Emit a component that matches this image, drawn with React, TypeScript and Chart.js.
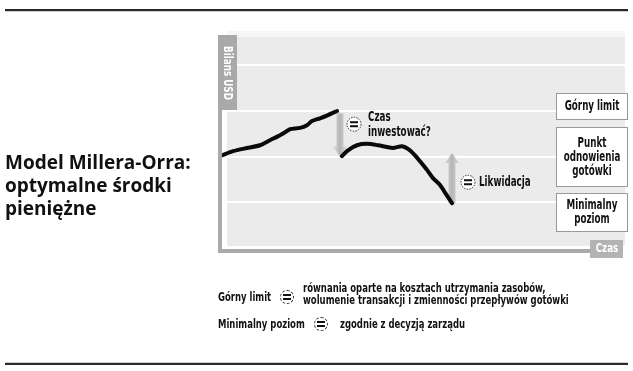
import React, { useEffect, useRef } from "react";
import { Chart, registerables } from "chart.js";

Chart.register(...registerables);

// ---- data (time units, balance units) ----
const rise_t = [0, 11, 25, 38, 48, 58, 65, 68, 78, 85, 90, 98, 106, 115];
const rise_v = [2.03, 2.12, 2.19, 2.25, 2.36, 2.47, 2.56, 2.6, 2.63, 2.69, 2.78, 2.84, 2.91, 3.0];
const fall_t = [120, 126, 135, 145, 156, 165, 171, 180, 186, 193, 198, 205, 211, 218, 224, 230];
const fall_v = [2.01, 2.14, 2.25, 2.28, 2.25, 2.21, 2.19, 2.23, 2.17, 2.03, 1.9, 1.71, 1.53, 1.38, 1.18, 0.98];
const gridLevels = [1, 2, 3, 4];
const levelBoxes = [["Górny limit"], ["Punkt", "odnowienia", "gotówki"], ["Minimalny", "poziom"]];
const investArrow = { t: 118, from: 2.95, to: 2.0 };
const liquidArrow = { t: 230, from: 0.98, to: 2.08 };
const investIcon = { t: 132, v: 2.71 };
const liquidIcon = { t: 246, v: 1.44 };
const investLabel = ["Czas", "inwestować?"];
const liquidLabel = "Likwidacja";
const yAxisTitle = "Bilans USD";
const xAxisTitle = "Czas";
const titleLines = ["Model Millera-Orra:", "optymalne środki", "pieniężne"];

const COND = '"Liberation Sans Narrow", "DejaVu Sans Condensed", "Arial Narrow", sans-serif';

function condText(ctx: CanvasRenderingContext2D, text: string, x: number, y: number, align: "left" | "center" = "left", sx = 0.72) {
  ctx.save();
  ctx.translate(x, y);
  ctx.scale(sx, 1);
  ctx.textAlign = align;
  ctx.fillText(text, 0, 0);
  ctx.restore();
}

function drawIcon(ctx: CanvasRenderingContext2D, x: number, y: number) {
  ctx.save();
  ctx.beginPath();
  ctx.arc(x, y, 7, 0, Math.PI * 2);
  ctx.fillStyle = "#ffffff";
  ctx.fill();
  ctx.setLineDash([1.5, 1.2]);
  ctx.lineWidth = 1;
  ctx.strokeStyle = "#333";
  ctx.stroke();
  ctx.setLineDash([]);
  ctx.fillStyle = "#111";
  ctx.fillRect(x - 4, y - 3, 8, 2);
  ctx.fillRect(x - 4, y + 1, 8, 2);
  ctx.restore();
}

function drawArrow(ctx: CanvasRenderingContext2D, x: number, y1: number, y2: number) {
  const dir = y2 > y1 ? 1 : -1;
  const head = 10;
  const g = ctx.createLinearGradient(x - 7, 0, x + 7, 0);
  g.addColorStop(0, "#dcdcdc");
  g.addColorStop(0.5, "#b4b4b4");
  g.addColorStop(1, "#dcdcdc");
  ctx.save();
  ctx.fillStyle = g;
  ctx.beginPath();
  ctx.moveTo(x - 3.5, y1);
  ctx.lineTo(x + 3.5, y1);
  ctx.lineTo(x + 3.5, y2 - dir * head);
  ctx.lineTo(x + 7, y2 - dir * head);
  ctx.lineTo(x, y2);
  ctx.lineTo(x - 7, y2 - dir * head);
  ctx.lineTo(x - 3.5, y2 - dir * head);
  ctx.closePath();
  ctx.fill();
  ctx.restore();
}

const decorPlugin = {
  id: "decor",
  beforeDatasetsDraw(chart: any) {
    const { ctx, chartArea } = chart;
    const xs = chart.scales.x;
    const ys = chart.scales.y;
    const { left, right, top, bottom } = chartArea;
    ctx.save();
    ctx.fillStyle = "#f6f6f6";
    ctx.fillRect(left + 5, top - 6, right - left - 5, 6);
    ctx.fillStyle = "#ebebeb";
    ctx.fillRect(left + 5, top, right - left - 5, bottom - 2 - top);
    ctx.strokeStyle = "#ffffff";
    ctx.lineWidth = 2;
    gridLevels.forEach((v) => {
      const y = Math.round(ys.getPixelForValue(v));
      ctx.beginPath();
      ctx.moveTo(left + 5, y);
      ctx.lineTo(right, y);
      ctx.stroke();
    });
    ctx.fillStyle = "#aaaaaa";
    ctx.fillRect(left - 4, top - 2, 4, bottom + 5 - (top - 2));
    ctx.fillRect(left - 4, bottom + 1, 372, 4);
    ctx.fillStyle = "#a9a9a9";
    ctx.fillRect(left - 4, top - 2, 19, 75);
    ctx.translate(left + 5.5, top + 36);
    ctx.rotate(Math.PI / 2);
    ctx.fillStyle = "#ffffff";
    ctx.font = `bold 13px ${COND}`;
    ctx.textBaseline = "middle";
    condText(ctx, yAxisTitle, 0, 0, "center", 0.75);
    ctx.restore();

    drawArrow(ctx, xs.getPixelForValue(investArrow.t), ys.getPixelForValue(investArrow.from), ys.getPixelForValue(investArrow.to));
    drawArrow(ctx, xs.getPixelForValue(liquidArrow.t), ys.getPixelForValue(liquidArrow.from), ys.getPixelForValue(liquidArrow.to));
  },
  afterDatasetsDraw(chart: any) {
    const { ctx, chartArea } = chart;
    const xs = chart.scales.x;
    const ys = chart.scales.y;
    const { right, bottom } = chartArea;
    ctx.save();
    const ix = xs.getPixelForValue(investIcon.t);
    const iy = ys.getPixelForValue(investIcon.v);
    drawIcon(ctx, ix, iy);
    ctx.fillStyle = "#111";
    ctx.font = `bold 13.5px ${COND}`;
    ctx.textBaseline = "middle";
    condText(ctx, investLabel[0], ix + 14, iy - 7);
    condText(ctx, investLabel[1], ix + 14, iy + 8);
    const lx = xs.getPixelForValue(liquidIcon.t);
    const ly = ys.getPixelForValue(liquidIcon.v);
    drawIcon(ctx, lx, ly);
    condText(ctx, liquidLabel, lx + 11, ly);

    const bx = right - 69;
    const bw = 72;
    const geo = [
      { y: 93, h: 27 },
      { y: 127, h: 60 },
      { y: 193, h: 39 },
    ];
    geo.forEach((b, k) => {
      const lines = levelBoxes[k];
      ctx.fillStyle = "#ffffff";
      ctx.fillRect(bx, b.y, bw, b.h);
      ctx.setLineDash([1, 1]);
      ctx.strokeStyle = "#333";
      ctx.lineWidth = 1;
      ctx.strokeRect(bx + 0.5, b.y + 0.5, bw - 1, b.h - 1);
      ctx.setLineDash([]);
      ctx.fillStyle = "#111";
      const lh = 14;
      const cy = b.y + b.h / 2;
      lines.forEach((t, i) => {
        condText(ctx, t, bx + bw / 2, cy + (i - (lines.length - 1) / 2) * lh, "center");
      });
    });

    ctx.fillStyle = "#b3b3b3";
    ctx.fillRect(right - 35, bottom - 8, 33, 18);
    ctx.fillStyle = "#ffffff";
    ctx.font = `bold 13px ${COND}`;
    condText(ctx, xAxisTitle, right - 18, bottom + 1, "center", 0.75);
    ctx.restore();
  },
};

function Cond({ left, top, children }: { left: number; top: number; children: React.ReactNode }) {
  return (
    <div
      style={{
        position: "absolute",
        left,
        top,
        fontFamily: COND,
        fontWeight: "bold",
        fontSize: 12.5,
        lineHeight: "12px",
        color: "#111",
        whiteSpace: "nowrap",
        transform: "scaleX(0.755)",
        transformOrigin: "left center",
      }}
    >
      {children}
    </div>
  );
}

function Icon({ left, top }: { left: number; top: number }) {
  return (
    <div
      style={{
        position: "absolute",
        left,
        top,
        width: 12,
        height: 12,
        borderRadius: "50%",
        border: "1px dashed #333",
        background: "#fff",
      }}
    >
      <div style={{ position: "absolute", left: 2, top: 3, width: 8, height: 2, background: "#111" }} />
      <div style={{ position: "absolute", left: 2, top: 7, width: 8, height: 2, background: "#111" }} />
    </div>
  );
}

export default function App() {
  const ref = useRef<HTMLCanvasElement>(null);
  useEffect(() => {
    if (!ref.current) return;
    const data: any[] = [];
    rise_t.forEach((t, i) => data.push({ x: t, y: rise_v[i] }));
    data.push({ x: (rise_t[rise_t.length - 1] + fall_t[0]) / 2, y: null });
    fall_t.forEach((t, i) => data.push({ x: t, y: fall_v[i] }));
    const chart = new Chart(ref.current, {
      type: "line",
      data: {
        datasets: [
          {
            data,
            borderColor: "#0a0a0a",
            borderWidth: 4,
            pointRadius: 0,
            tension: 0.25,
            spanGaps: false,
            borderCapStyle: "round",
            borderJoinStyle: "round",
          } as any,
        ],
      },
      options: {
        animation: false,
        responsive: false,
        devicePixelRatio: 1,
        layout: { padding: { left: 222, top: 37, right: 8, bottom: 123 } },
        plugins: { legend: { display: false }, tooltip: { enabled: false } },
        scales: {
          x: { type: "linear", min: 0, max: 403, display: false },
          y: { type: "linear", min: 0, max: 4.62, display: false },
        },
      },
      plugins: [decorPlugin],
    });
    return () => chart.destroy();
  }, []);

  return (
    <div style={{ position: "absolute", left: 0, top: 0, width: 633, height: 371, background: "#fff", overflow: "hidden" }}>
      <div style={{ position: "absolute", left: 5, top: 9, width: 623, height: 2, background: "#2a2a2a" }} />
      <div style={{ position: "absolute", left: 5, top: 11, width: 623, height: 1, background: "#cfcfcf" }} />
      <canvas ref={ref} width={633} height={371} style={{ position: "absolute", left: 0, top: 0 }} />
      <div
        style={{
          position: "absolute",
          left: 5,
          top: 151,
          fontFamily: '"Open Sans", sans-serif',
          fontWeight: "bold",
          fontSize: 19,
          lineHeight: "23px",
          color: "#111",
          whiteSpace: "nowrap",
        }}
      >
        {titleLines.map((l, i) => (
          <div key={i}>{l}</div>
        ))}
      </div>
      <Cond left={218} top={291}>Górny limit</Cond>
      <Icon left={280} top={290} />
      <Cond left={303} top={282}>równania oparte na kosztach utrzymania zasobów,</Cond>
      <Cond left={303} top={294}>wolumenie transakcji i zmienności przepływów gotówki</Cond>
      <Cond left={218} top={318}>Minimalny poziom</Cond>
      <Icon left={314} top={317} />
      <Cond left={340} top={318}>zgodnie z decyzją zarządu</Cond>
      <div style={{ position: "absolute", left: 5, top: 362, width: 623, height: 1, background: "#cfcfcf" }} />
      <div style={{ position: "absolute", left: 5, top: 363, width: 623, height: 2, background: "#2a2a2a" }} />
    </div>
  );
}
